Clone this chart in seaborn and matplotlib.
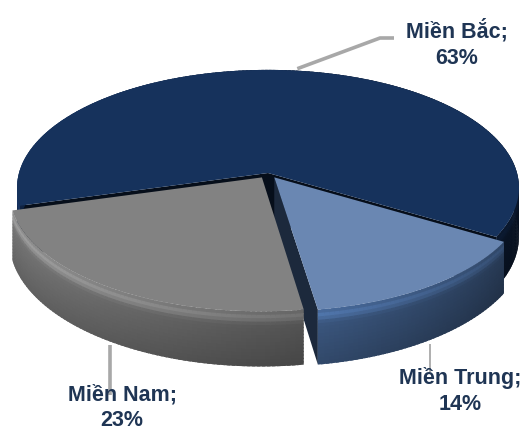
import numpy as np
import matplotlib
matplotlib.use("Agg")
import matplotlib.pyplot as plt
from matplotlib.collections import PolyCollection
from matplotlib.patches import Polygon
import seaborn as sns

# Regional shares (%)
regions = ["Miền Bắc", "Miền Trung", "Miền Nam"]
shares = [63, 14, 23]

# Colours: top faces, wall base tones, explode offsets
top_colors = ["#16325c", "#6a87b2", "#828282"]
wall_base = [(0.075, 0.17, 0.32), (0.34, 0.50, 0.73), (0.48, 0.48, 0.48)]
explode = [0.0, 0.045, 0.045]

sns.set_theme(style="white")
plt.rcParams["font.family"] = ["Liberation Sans", "DejaVu Sans"]

W, H = 523, 433
fig = plt.figure(figsize=(W / 100, H / 100), dpi=100)
ax = fig.add_axes([0, 0, 1, 1])
ax.set_xlim(0, W)
ax.set_ylim(H, 0)
ax.axis("off")

# Perspective parameters of the tilted disc
CX, CY = 268, 173
RX, RY = 249, 116
DEPTH = 8.0
THICK = 48.0
START = 164.2  # first slice begins here, angles grow clockwise on screen


def project(u, v, z=0.0):
    s = DEPTH / (DEPTH - v)
    return CX + RX * u * s, CY + (RY * v + z) * s


def light(theta):
    return 0.70 + 0.30 * np.cos(np.radians(theta - 170))


def profile(t):
    return 1.0 + 0.32 * np.exp(-((t - 0.1) / 0.09) ** 2) - 0.2 * t


def shade(base, f):
    return tuple(float(np.clip(c * f, 0, 1)) for c in base)


angles = np.cumsum([0] + [s * 3.6 for s in shares]) + START
label_anchor = []

for i, (name, share) in enumerate(zip(regions, shares)):
    a0, a1 = angles[i], angles[i + 1]
    mid = 0.5 * (a0 + a1)
    ou = explode[i] * np.cos(np.radians(mid))
    ov = explode[i] * np.sin(np.radians(mid))

    # radial cut faces that face the viewer
    for a, sign in ((a0, 1), (a1, -1)):
        r = np.radians(a)
        normal = np.array([np.sin(r), -np.cos(r)]) * sign
        p = np.array([ou + 0.5 * np.cos(r), ov + 0.5 * np.sin(r)])
        if normal @ (np.array([0, DEPTH]) - p) > 0:
            ru, rv = ou + np.cos(r), ov + np.sin(r)
            face = [project(ou, ov, 0), project(ru, rv, 0),
                    project(ru, rv, THICK), project(ou, ov, THICK)]
            ax.add_patch(Polygon(face, closed=True,
                                 fc=shade(wall_base[i], 0.32), ec="none"))

    # outer curved wall, split into slightly overlapping shaded quads
    th = np.linspace(a0, a1, max(int(a1 - a0), 2) + 1)
    step = th[1] - th[0]
    zs = np.linspace(0, THICK, 17)
    dz = zs[1] - zs[0]
    quads, cols = [], []
    order = np.argsort(np.sin(np.radians(0.5 * (th[:-1] + th[1:]))))
    for k in order:
        ta = max(th[k] - 0.35 * step, a0)
        tb = min(th[k + 1] + 0.35 * step, a1)
        t0, t1 = np.radians(ta), np.radians(tb)
        u0, v0 = ou + np.cos(t0), ov + np.sin(t0)
        u1, v1 = ou + np.cos(t1), ov + np.sin(t1)
        g = light(0.5 * (th[k] + th[k + 1]))
        for j in range(len(zs) - 1):
            za = zs[j]
            zb = min(zs[j + 1] + 0.35 * dz, THICK)
            quads.append([project(u0, v0, za), project(u1, v1, za),
                          project(u1, v1, zb), project(u0, v0, zb)])
            f = g * profile(0.5 * (zs[j] + zs[j + 1]) / THICK)
            cols.append(shade(wall_base[i], f))
    ax.add_collection(PolyCollection(quads, facecolors=cols, edgecolors="none",
                                     linewidths=0))

    # top face
    tr = np.radians(np.linspace(a0, a1, 240))
    top = [project(ou, ov)] + [project(ou + np.cos(t), ov + np.sin(t)) for t in tr]
    ax.add_patch(Polygon(top, closed=True, fc=top_colors[i], ec="none"))

    rm = np.radians(mid)
    rim_top = project(ou + np.cos(rm), ov + np.sin(rm), 0)
    rim_bot = project(ou + np.cos(rm), ov + np.sin(rm), THICK)
    label_anchor.append((rim_top, rim_bot))

# labels with leader lines
txt_kw = dict(ha="center", va="center", fontsize=15.5, fontweight="bold",
              color="#1f3554", linespacing=1.3)
lead_kw = dict(color="#a8a8a8", solid_capstyle="butt")

# Miền Bắc
x0, y0 = label_anchor[0][0]
ax.plot([x0, 380, 394], [y0 - 2, 38, 38], lw=2.6, **lead_kw)
ax.text(457, 44, f"{regions[0]};\n{shares[0]}%", **txt_kw)

# Miền Trung
x0, y0 = label_anchor[1][1]
ax.plot([x0, x0], [y0 + 4, 372], lw=1.3, **lead_kw)
ax.text(460, 391, f"{regions[1]};\n{shares[1]}%", **txt_kw)

# Miền Nam
x0, y0 = label_anchor[2][1]
ax.plot([x0, x0], [y0 + 4, 395], lw=2.6, **lead_kw)
ax.text(122, 408, f"{regions[2]};\n{shares[2]}%", **txt_kw)

fig.savefig("out.png", dpi=100)
